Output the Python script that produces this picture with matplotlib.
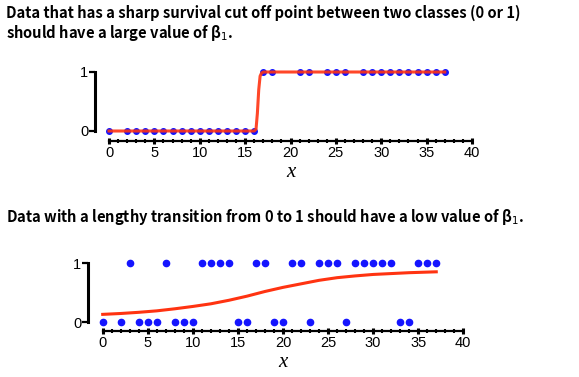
import matplotlib
matplotlib.use("Agg")
import matplotlib.pyplot as plt
from matplotlib.ticker import MultipleLocator

plt.rcParams["font.family"] = ["Liberation Sans", "DejaVu Sans"]

# sharp transition data
sharp_x0 = [0, 2, 3, 4, 5, 6, 7, 8, 9, 10, 11, 12, 13, 14, 15, 16]
sharp_x1 = [17, 18, 21, 22, 24, 25, 26, 28, 29, 30, 31, 32, 33, 34, 35, 36, 37]
sharp_curve_x = [0, 4, 8, 12, 16, 16.2, 16.35, 16.5, 16.65, 16.8, 17, 20, 25, 30, 37]
sharp_curve_y = [0, 0, 0, 0, 0, 0.03, 0.3, 0.7, 0.93, 0.98, 1.0, 1.0, 1.0, 1.0, 1.0]

# lengthy transition data
slow_x0 = [0, 2, 4, 5, 6, 8, 9, 10, 15, 16, 19, 20, 23, 27, 33, 34]
slow_x1 = [3, 7, 11, 12, 13, 14, 17, 18, 21, 22, 24, 25, 26, 28, 29, 30, 31, 32, 35, 36, 37]
slow_curve_x = [0, 2, 4, 6, 8, 10, 12, 14, 16, 18, 20, 22, 24, 26, 28, 30, 32, 34, 36, 37]
slow_curve_y = [0.13, 0.145, 0.165, 0.19, 0.225, 0.265, 0.31, 0.37, 0.44, 0.52,
                0.59, 0.65, 0.71, 0.755, 0.785, 0.81, 0.825, 0.84, 0.85, 0.855]

title1 = "Data that has a sharp survival cut off point between two classes (0 or 1)\nshould have a large value of β$_1$."
title2 = "Data with a lengthy transition from 0 to 1 should have a low value of β$_1$."

W, H = 579, 377
fig = plt.figure(figsize=(W / 100, H / 100), dpi=100)

dot_color = "#1414ff"
line_color = "#ff3311"


def style_axis(ax, yoff, xoff):
    ax.set_xlim(0, 40)
    ax.set_ylim(0, 1)
    for s in ["top", "right"]:
        ax.spines[s].set_visible(False)
    ax.spines["left"].set_position(("outward", yoff))
    ax.spines["bottom"].set_position(("outward", xoff))
    ax.spines["left"].set_bounds(0, 1)
    ax.spines["bottom"].set_bounds(0, 40)
    ax.spines["left"].set_linewidth(2.2)
    ax.spines["bottom"].set_linewidth(1.6)
    ax.xaxis.set_major_locator(MultipleLocator(5))
    ax.xaxis.set_minor_locator(MultipleLocator(1))
    ax.set_yticks([0, 1])
    ax.tick_params(axis="x", which="major", direction="inout", length=5, width=2.2,
                   labelsize=10.5, pad=1)
    ax.tick_params(axis="x", which="minor", direction="inout", length=3.5, width=1.5)
    ax.tick_params(axis="y", direction="out", length=4, width=1.6, labelsize=10.5, pad=1)
    ax.set_xlabel("x", fontdict={"family": ["Liberation Serif", "DejaVu Serif"],
                                 "style": "italic", "size": 15}, labelpad=2.5)
    ax.patch.set_visible(False)


# top chart
ax1 = fig.add_axes([109 / W, (H - 131) / H, 363 / W, 59 / H])
ax1.plot(sharp_x0, [0] * len(sharp_x0), "o", color=dot_color, ms=4, clip_on=False, zorder=2)
ax1.plot(sharp_x1, [1] * len(sharp_x1), "o", color=dot_color, ms=4, clip_on=False, zorder=2)
ax1.plot(sharp_curve_x, sharp_curve_y, "-", color=line_color, lw=2.2, alpha=0.9,
         clip_on=False, zorder=3)
style_axis(ax1, 10, 7)

# bottom chart
ax2 = fig.add_axes([102.7 / W, (H - 322) / H, 360.6 / W, 58.7 / H])
ax2.plot(slow_x0, [0] * len(slow_x0), "o", color=dot_color, ms=4.5, clip_on=False, zorder=2)
ax2.plot(slow_x1, [1] * len(slow_x1), "o", color=dot_color, ms=4.5, clip_on=False, zorder=2)
ax2.plot(slow_curve_x, slow_curve_y, "-", color=line_color, lw=2.2, clip_on=False, zorder=3)
style_axis(ax2, 10.5, 6.5)

title_font = ["Noto Sans CJK KR", "DejaVu Sans"]
fig.text(6 / W, 1 - 5 / H, title1, ha="left", va="top", fontsize=10.6,
         family=title_font, weight="bold", linespacing=1.15)
fig.text(6 / W, 1 - 207 / H, title2, ha="left", va="top", fontsize=10.6,
         family=title_font, weight="bold")

fig.savefig("out.png", dpi=100)
plt.close(fig)
